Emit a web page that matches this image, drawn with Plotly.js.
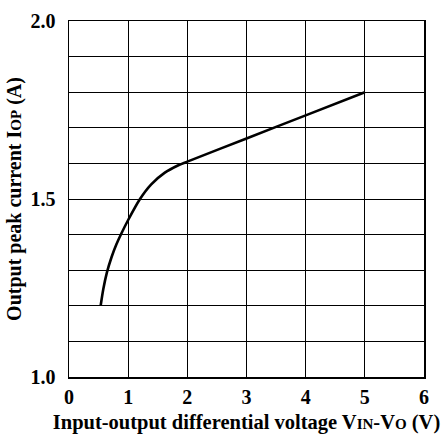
<!DOCTYPE html>
<html><head><meta charset="utf-8">
<script src="https://cdn.plot.ly/plotly-3.0.1.min.js"></script>
<style>body{margin:0;padding:0;background:#fff}#c{width:448px;height:437px}</style>
</head><body><div id="c"></div>
<script>
const voltage = [0.535, 0.58, 0.64, 0.72, 0.8, 0.885, 1.0, 1.2, 1.39, 1.62, 1.84, 2.0, 3.0, 4.0, 5.0];
const current = [1.2, 1.247, 1.293, 1.337, 1.372, 1.403, 1.441, 1.5, 1.541, 1.574, 1.594, 1.605, 1.67, 1.735, 1.8];
const xTicks = [0, 1, 2, 3, 4, 5, 6];
const yTicks = [1.0, 1.5, 2.0];
const yTickText = ['1.0', '1.5', '2.0'];

const F = 'Liberation Serif, Times New Roman, serif';
Plotly.newPlot('c', [{
  x: voltage, y: current, type: 'scatter', mode: 'lines',
  line: {color: '#000', width: 2.6, shape: 'spline', smoothing: 0.8},
  hoverinfo: 'skip'
}], {
  width: 448, height: 437,
  margin: {l: 69, r: 24, t: 21, b: 60},
  paper_bgcolor: '#fff', plot_bgcolor: '#fff',
  showlegend: false,
  font: {family: F, color: '#000'},
  xaxis: {
    range: [0, 6], tickvals: xTicks, ticktext: xTicks.map(String),
    showgrid: true, gridcolor: '#000', gridwidth: 1,
    zeroline: false, showline: true, linecolor: '#000', linewidth: 1.5, mirror: true,
    ticks: '', ticklabelstandoff: 1,
    tickfont: {family: F, size: 20, color: '#000', weight: 'bold'},
    title: {text: '<b>Input-output differential voltage V<span style="font-size:15px">IN</span>-V<span style="font-size:15px">O</span> (V)</b>',
      font: {family: F, size: 20.5, color: '#000'}, standoff: 8}
  },
  yaxis: {
    range: [1.0, 2.0], tickvals: yTicks, ticktext: yTickText,
    showgrid: true, gridcolor: '#000', gridwidth: 1,
    minor: {dtick: 0.1, tick0: 1.0, showgrid: true, gridcolor: '#000', gridwidth: 1, ticks: ''},
    zeroline: false, showline: true, linecolor: '#000', linewidth: 1.5, mirror: true,
    ticks: '', ticklabelstandoff: 8,
    tickfont: {family: F, size: 20, color: '#000', weight: 'bold'},
    title: {text: '<b>Output peak current I<span style="font-size:15px">OP</span> (A)</b>',
      font: {family: F, size: 20, color: '#000'}, standoff: 3}
  }
}, {staticPlot: true});
</script></body></html>
